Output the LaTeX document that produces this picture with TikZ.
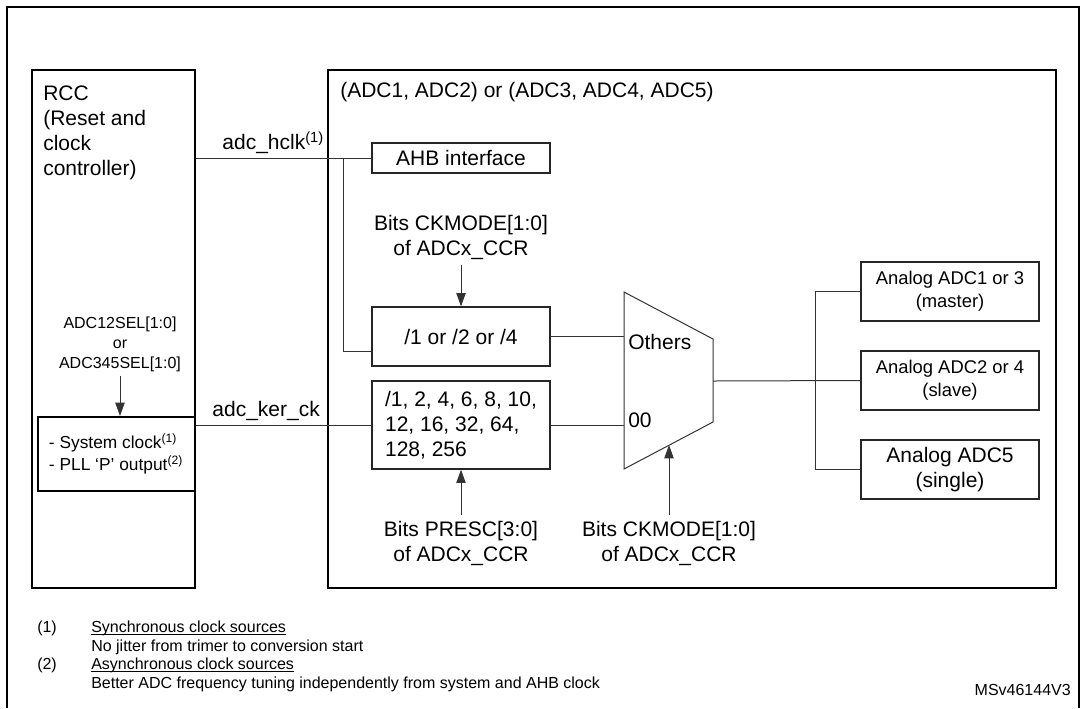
\documentclass[tikz,border=0pt]{standalone}
\usepackage{fontspec}
\setmainfont{Liberation Sans}
\usetikzlibrary{fit,arrows.meta}

\newcommand\fbig{\fontsize{15.75}{18.75}\selectfont}
\newcommand\fmid{\fontsize{13.8}{17.25}\selectfont}
\newcommand\fsml{\fontsize{12}{15}\selectfont}
\newcommand\fsrc{\fontsize{13}{16.5}\selectfont}
\newcommand\fnote{\fontsize{12}{13.5}\selectfont}

\tikzset{
  frame/.style={line width=1.5pt},
  block/.style={draw, line width=1.5pt, inner sep=0pt},
  unit/.style={draw=black!85, line width=0.9pt, inner sep=0pt},
  wire/.style={draw=black!80, line width=0.75pt},
  arr/.style={wire, -{Triangle[length=10pt,width=7pt]}},
  txt/.style={inner sep=0pt, font=\fbig, align=center},
  note/.style={inner sep=0pt, font=\fnote, anchor=base west},
  uline/.style={line width=0.5pt},
}

\begin{document}
\begin{tikzpicture}[x=0.75pt,y=-0.75pt]
\useasboundingbox (0,0) rectangle (1080,708);
% outer frame
\draw[frame] (7,708) -- (7,7) -- (1079,7) -- (1079,708);

% RCC side
\node[block, fit={(32,70) (195,588)}] (rcc) {};
\node[txt, anchor=north west, align=left] (rcctitle) at (43,86) {RCC\\(Reset and\\clock\\controller)};
\node[txt, font=\fsml, inner sep=3pt] (selbits) at (120,344) {ADC12SEL[1:0]\\or\\ADC345SEL[1:0]};
\node[block, fit={(38,417) (195,491)}] (sel) {};
\node[txt, font=\fsrc, align=left] (srcs) at (116,454) {- System clock\textsuperscript{(1)}\\- PLL ‘P’ output\textsuperscript{(2)}};

% ADC side
\node[block, fit={(328,70) (1056,588)}] (adc) {};
\node[txt, anchor=west] (adctitle) at (340,92) {(ADC1, ADC2) or (ADC3, ADC4, ADC5)};
\node[unit, fit={(372,143) (550,173)}] (ahb) {};
\node[txt] at (ahb.center) {AHB interface};
\node[txt, inner sep=4pt] (ckmtop) at (461,237) {Bits CKMODE[1:0]\\of ADCx\_CCR};
\node[unit, fit={(372,307) (550,366)}] (div1) {};
\node[txt] at (div1.center) {/1 or /2 or /4};
\node[unit, fit={(372,381) (550,469)}] (div2) {};
\node[txt, align=left] at (div2.center) {/1, 2, 4, 6, 8, 10,\\12, 16, 32, 64,\\128, 256};
\node[txt, inner sep=4pt] (presc) at (461,543) {Bits PRESC[3:0]\\of ADCx\_CCR};

% clock mux
\coordinate (mux-tl) at (624,292);
\coordinate (mux-tr) at (713,339);
\coordinate (mux-br) at (713,422);
\coordinate (mux-bl) at (624,469);
\coordinate (mux-sel) at (669,445);
\coordinate (mux-out) at (713,381);
\draw[wire] (mux-tl) -- (mux-tr) -- (mux-br) -- (mux-bl) -- cycle;
\node[txt, anchor=west] (others) at (628,342) {Others};
\node[txt, anchor=west] (zero) at (628,420) {00};
\node[txt, inner sep=4pt] (ckmbot) at (669,543) {Bits CKMODE[1:0]\\of ADCx\_CCR};

% analog parts
\node[unit, fit={(861,262) (1039,321)}] (ana1) {};
\node[txt, font=\fmid] at (ana1.center) {Analog ADC1 or 3\\(master)};
\node[unit, fit={(861,351) (1039,410)}] (ana2) {};
\node[txt, font=\fmid] at (ana2.center) {Analog ADC2 or 4\\(slave)};
\node[unit, fit={(861,440) (1039,499)}] (ana3) {};
\node[txt] at (ana3.center) {Analog ADC5\\(single)};

% clocks
\draw[wire] (ahb.west) -- (ahb.west -| rcc.east) node[txt, pos=0.56, above=3pt] {adc\_hclk\textsuperscript{(1)}};
\coordinate (tap) at (343,158);
\draw[wire] (tap) |- ([yshift=-11.5pt]div1.west);
\draw[wire] (div1.east) -- (div1.east -| mux-tl);
\draw[wire] (div2.west) -- (div2.west -| sel.east) node[txt, pos=0.6, above=3pt] {adc\_ker\_ck};
\draw[wire] (div2.east) -- (div2.east -| mux-tl);
\draw[wire] (mux-out) -- (ana2.west);
\draw[wire] (ana1.west) -- ++(-45,0) |- (ana3.west);

% control bits
\draw[arr] (selbits.south) -- (selbits.south |- sel.north);
\draw[arr] (ckmtop.south) -- (div1.north);
\draw[arr] (presc.north) -- (div2.south);
\draw[arr] (ckmbot.north) -- (mux-sel);

% notes
\node[note] (n1) at (37,632) {(1)};
\node[note] (n1a) at (91,632) {Synchronous clock sources};
\draw[uline] ([yshift=-1.5pt]n1a.base west) -- ([yshift=-1.5pt]n1a.base east);
\node[note] (n1b) at (91,651) {No jitter from trimer to conversion start};
\node[note] (n2) at (37,669) {(2)};
\node[note] (n2a) at (91,669) {Asynchronous clock sources};
\draw[uline] ([yshift=-1.5pt]n2a.base west) -- ([yshift=-1.5pt]n2a.base east);
\node[note] (n2b) at (91,688) {Better ADC frequency tuning independently from system and AHB clock};
\node[note, anchor=base east] (ref) at (1071,695) {MSv46144V3};
\end{tikzpicture}
\end{document}
